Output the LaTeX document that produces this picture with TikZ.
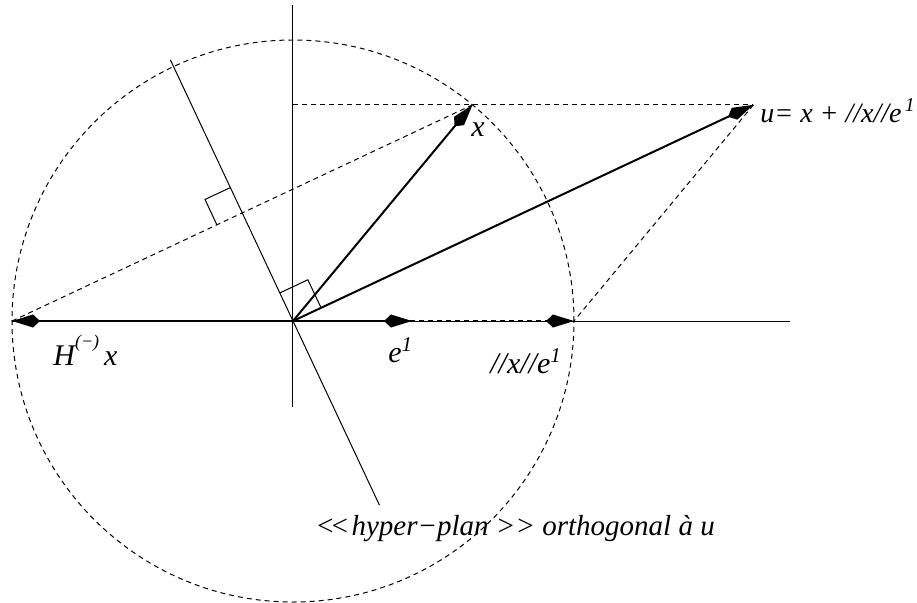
\documentclass[tikz,border=0pt]{standalone}
\usepackage{fontspec}
\setmainfont{Liberation Serif}
\usetikzlibrary{arrows.meta, calc}

\begin{document}
\begin{tikzpicture}[x=0.5pt, y=0.5pt,
    vec/.style={line width=1pt, -{Kite[length=14pt, width=6.5pt, inset=3.5pt]}},
    thin line/.style={line width=0.5pt},
    dashline/.style={line width=0.5pt, dash pattern=on 2.5pt off 2pt},
    lbl/.style={font=\fontsize{15}{18}\selectfont\itshape, inner sep=0pt}]
    \useasboundingbox (-293, -281) rectangle (624, 321);

    % Points
    \coordinate (O) at (0, 0);
    \coordinate (X) at (50.3:281);
    \coordinate (HX) at (-281, 0);
    \coordinate (E) at (119, 0);
    \coordinate (NE) at (281, 0);
    \coordinate (U) at ($(X)+(NE)$);
    \coordinate (M) at ($(HX)!0.5!(X)$);

    % Hyper-plane ends
    \coordinate (HT) at ($(O)!0.567!90:(U)$);
    \coordinate (HB) at ($(O)!-0.4!90:(U)$);

    % Axes
    \draw[thin line] (HX) -- (497, 0);
    \draw[thin line] (0, -86) -- (0, 316);
    \draw[thin line] (HT) -- (HB);

    % Circle of radius ||x||
    \draw[dashline] (O) circle (281);

    % Dashed lines
    \draw[dashline] (O |- X) -- (U);
    \draw[dashline] (HX) -- (X);
    \draw[dashline] (U) -- (NE);

    % Right angles
    \coordinate (m1) at ($(M)!14pt!(HT)$);
    \coordinate (m2) at ($(M)!14pt!(HX)$);
    \draw[thin line] (m1) -- ($(m1)+(m2)-(M)$) -- (m2);
    \coordinate (o1) at ($(O)!15.5pt!(HT)$);
    \coordinate (o2) at ($(O)!15.5pt!(U)$);
    \draw[thin line] (o1) -- ($(o1)+(o2)-(O)$) -- (o2);

    % Vectors
    \draw[vec, dash pattern=on 2.5pt off 2pt] (O) -- (NE);
    \draw[vec] (O) -- (E);
    \draw[vec] (O) -- (X);
    \draw[vec] (O) -- (U);
    \draw[vec] (O) -- (HX);

    % Labels
    \node[lbl] (xlbl) at (185, 191) {x};
    \node[lbl, font=\fontsize{14}{17}\selectfont\itshape, anchor=base west] (ulbl) at (467, 199)
        {u= x + //x//e\textsuperscript{\,1}};
    \node[lbl, anchor=base west] (hlbl) at (-240, -44)
        {H\raisebox{9pt}{\fontsize{9}{9}\selectfont(−)}\,x};
    \node[lbl, anchor=base west] (elbl) at (95, -41) {e\textsuperscript{1}};
    \node[lbl, anchor=base west] (nelbl) at (197, -52) {//x//e\textsuperscript{1}};
    \node[lbl, font=\fontsize{14.5}{17}\selectfont\itshape, anchor=base west] (hplbl) at (22, -214)
        {<\kern-2.5pt<\kern1pt hyper−plan >{}> orthogonal à u};

\end{tikzpicture}
\end{document}
